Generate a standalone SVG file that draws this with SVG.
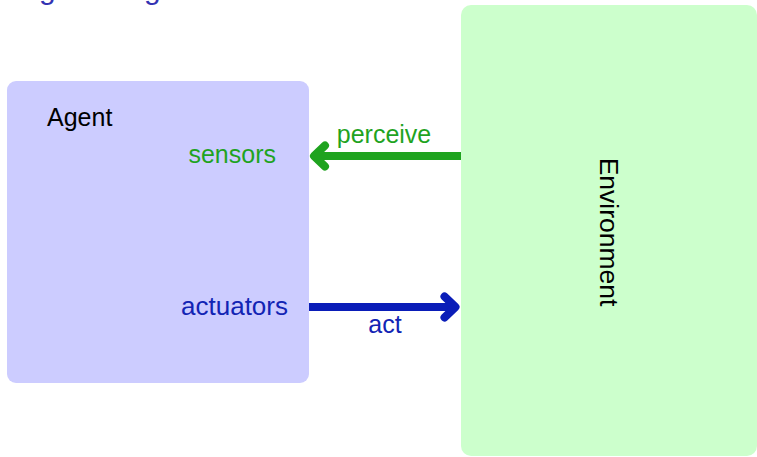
<svg xmlns="http://www.w3.org/2000/svg" width="757" height="457" viewBox="0 0 757 457">
<style>
  text { font-family: "Liberation Sans", Arial, sans-serif; font-size: 25px; }
  .title { fill: #3333b3; font-size: 30px; }
  .green { fill: #1fa31f; }
  .blue { fill: #1224b4; }
  .black { fill: #000000; }
  .conn { fill: none; stroke-width: 8; stroke-linecap: butt; }
</style>
<defs>
  <marker id="headGreen" markerUnits="userSpaceOnUse" orient="auto" refX="0" refY="0" markerWidth="40" markerHeight="40" overflow="visible">
    <path d="M -11 -10.5 L 0 0 L -11 10.5" fill="none" stroke="#1fa31f" stroke-width="8" stroke-linecap="round" stroke-linejoin="round"/>
  </marker>
  <marker id="headBlue" markerUnits="userSpaceOnUse" orient="auto" refX="0" refY="0" markerWidth="40" markerHeight="40" overflow="visible">
    <path d="M -11 -10.5 L 0 0 L -11 10.5" fill="none" stroke="#0a1db8" stroke-width="8" stroke-linecap="round" stroke-linejoin="round"/>
  </marker>
</defs>
<text class="title" y="-1"><tspan x="39">g</tspan><tspan x="144">g</tspan></text>
<g id="agent">
  <rect x="7" y="81" width="302" height="302" rx="9" ry="9" fill="#ccccff"/>
  <text class="black" x="47" y="126">Agent</text>
  <text class="green" x="276" y="163" text-anchor="end">sensors</text>
  <text class="blue" x="288" y="315" text-anchor="end" style="font-size:26px">actuators</text>
</g>
<g id="environment">
  <rect x="461" y="5" width="296" height="451" rx="10" ry="10" fill="#ccffcc"/>
  <text class="black" transform="translate(600,232) rotate(90)" text-anchor="middle" style="font-size:26.5px">Environment</text>
</g>
<g id="connectors">
  <g id="perceive">
    <path class="conn" d="M 461 156 L 314 156" stroke="#1fa31f" marker-end="url(#headGreen)"/>
    <text class="green" x="384" y="143" text-anchor="middle">perceive</text>
  </g>
  <g id="act">
    <path class="conn" d="M 309 307 L 455.5 307" stroke="#0a1db8" marker-end="url(#headBlue)"/>
    <text class="blue" x="385" y="333" text-anchor="middle">act</text>
  </g>
</g>
</svg>
